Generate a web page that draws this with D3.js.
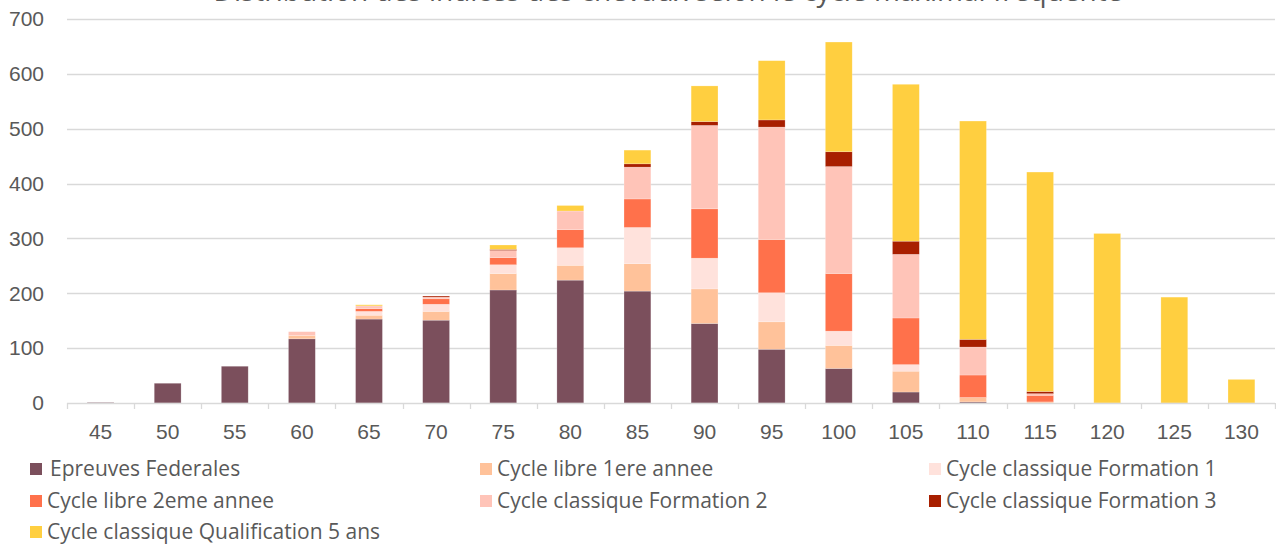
<!DOCTYPE html>
<html>
<head>
<meta charset="utf-8">
<script src="https://cdnjs.cloudflare.com/ajax/libs/d3/7.8.5/d3.min.js"></script>
<style>
	body { margin: 0; background: #fff; }
	svg { display: block; font-family: "Open Sans", sans-serif; }
	.tick text { fill: #595959; }
</style>
</head>
<body>
<div class="chart"></div>
<script>
// categories (indice)
var categories = ["45", "50", "55", "60", "65", "70", "75", "80", "85", "90", "95", "100", "105", "110", "115", "120", "125", "130"];

var seriesNames = [
	"Epreuves Federales",
	"Cycle libre 1ere annee",
	"Cycle classique Formation 1",
	"Cycle libre 2eme annee",
	"Cycle classique Formation 2",
	"Cycle classique Formation 3",
	"Cycle classique Qualification 5 ans"
];

var epreuves = [1, 36, 67, 117, 153, 151, 206, 224, 204, 145, 98, 63, 20, 2, 0, 0, 0, 0];
var libre1 = [0, 0, 0, 6, 7, 16, 30, 27, 50, 63, 50, 42, 38, 8, 2, 0, 0, 0];
var formation1 = [0, 0, 0, 0, 7, 13, 16, 32, 66, 56, 53, 26, 12, 0, 0, 0, 0, 0];
var libre2 = [0, 0, 0, 0, 5, 10, 13, 33, 52, 90, 97, 105, 85, 41, 12, 0, 0, 0];
var formation2 = [0, 0, 0, 7, 5, 3, 13, 34, 58, 152, 205, 195, 116, 51, 3, 0, 0, 0];
var formation3 = [0, 0, 0, 0, 0, 2, 2, 0, 6, 7, 13, 27, 24, 14, 4, 0, 0, 0];
var qualif5 = [0, 0, 0, 0, 2, 0, 8, 10, 25, 65, 108, 200, 286, 398, 400, 309, 193, 43];

var yTicks = [0, 100, 200, 300, 400, 500, 600, 700];

var colors = ["#7B4F5C", "#FFC29A", "#FFE2DC", "#FF714B", "#FFC4B8", "#A81F00", "#FFCF40"];

var seriesValues = [epreuves, libre1, formation1, libre2, formation2, formation3, qualif5];

var W = 1276, H = 544;
var margin = { top: 19, right: 1, bottom: 141, left: 67 },
	width = W - margin.left - margin.right,
	height = H - margin.top - margin.bottom;

var rows = categories.map(function (c, i) {
	var r = { cat: c };
	seriesNames.forEach(function (s, j) { r[s] = seriesValues[j][i]; });
	return r;
});

var stack = d3.stack().keys(seriesNames)(rows);

var svg = d3.select(".chart").append("svg")
	.attr("width", W)
	.attr("height", H);

// title, cut off by the top edge like in the source picture
svg.append("text")
	.attr("x", 668)
	.attr("y", 1)
	.attr("text-anchor", "middle")
	.style("font-size", "28px")
	.style("fill", "#595959")
	.text("Distribution des indices des chevaux selon le cycle maximal fréquenté");

var g = svg.append("g")
	.attr("transform", "translate(" + margin.left + "," + margin.top + ")");

var x = d3.scaleBand().domain(categories).range([0, width]).paddingInner(0.6).paddingOuter(0.3);
var y = d3.scaleLinear().domain([0, 700]).range([height, 0]);

// gridlines
g.append("g")
	.selectAll("line")
	.data(yTicks.slice(1))
	.enter().append("line")
	.attr("x1", 0)
	.attr("x2", width)
	.attr("y1", function (d) { return Math.round(y(d)) + 0.5; })
	.attr("y2", function (d) { return Math.round(y(d)) + 0.5; })
	.attr("stroke", "#D9D9D9")
	.attr("stroke-width", 1.3);

// y axis labels
var yAxis = d3.axisLeft(y).tickValues(yTicks).tickSize(0).tickPadding(23);
g.append("g")
	.call(yAxis)
	.call(function (a) { a.select(".domain").remove(); })
	.selectAll("text")
	.style("font-size", "21px");

// bars
g.append("g")
	.selectAll("g")
	.data(stack)
	.enter().append("g")
	.attr("fill", function (d, i) { return colors[i]; })
	.selectAll("rect")
	.data(function (d) { return d; })
	.enter().append("rect")
	.attr("x", function (d) { return x(d.data.cat); })
	.attr("width", x.bandwidth())
	.attr("y", function (d) { return y(d[1]); })
	.attr("height", function (d) { return y(d[0]) - y(d[1]); })
	.attr("stroke", "#fff")
	.attr("stroke-opacity", 0.35)
	.attr("stroke-width", 0.6);

// x axis: baseline and tick marks on band edges
var xAxisG = g.append("g")
	.attr("transform", "translate(0," + height + ")");

xAxisG.append("line")
	.attr("x1", 0).attr("x2", width)
	.attr("y1", 0.5).attr("y2", 0.5)
	.attr("stroke", "#D9D9D9")
	.attr("stroke-width", 1.3);

var edges = categories.map(function (c) { return x(c) - x.step() * x.paddingInner() / 2; });
edges.push(width);
xAxisG.selectAll(".xtick")
	.data(edges)
	.enter().append("line")
	.attr("class", "xtick")
	.attr("x1", function (d) { return Math.round(d) + 0.5; })
	.attr("x2", function (d) { return Math.round(d) + 0.5; })
	.attr("y1", 0)
	.attr("y2", 6)
	.attr("stroke", "#D9D9D9")
	.attr("stroke-width", 1.3);

var xAxis = d3.axisBottom(x).tickSize(0).tickPadding(21);
xAxisG.append("g")
	.call(xAxis)
	.call(function (a) { a.select(".domain").remove(); })
	.selectAll("text")
	.style("font-size", "21px");

// legend
var legendCols = [30, 480, 929],
	legendRows = [469, 501, 532];

var legend = svg.append("g")
	.selectAll("g")
	.data(seriesNames)
	.enter().append("g")
	.attr("transform", function (d, i) {
		return "translate(" + legendCols[i % 3] + "," + legendRows[Math.floor(i / 3)] + ")";
	});

legend.append("rect")
	.attr("x", 0)
	.attr("y", -6)
	.attr("width", 12)
	.attr("height", 12)
	.attr("fill", function (d, i) { return colors[i]; });

legend.append("text")
	.attr("x", function (d, i) { return i === 0 ? 20 : 17; })
	.attr("dy", "0.35em")
	.style("font-size", "21px")
	.style("fill", "#595959")
	.text(function (d) { return d; });
</script>
</body>
</html>
